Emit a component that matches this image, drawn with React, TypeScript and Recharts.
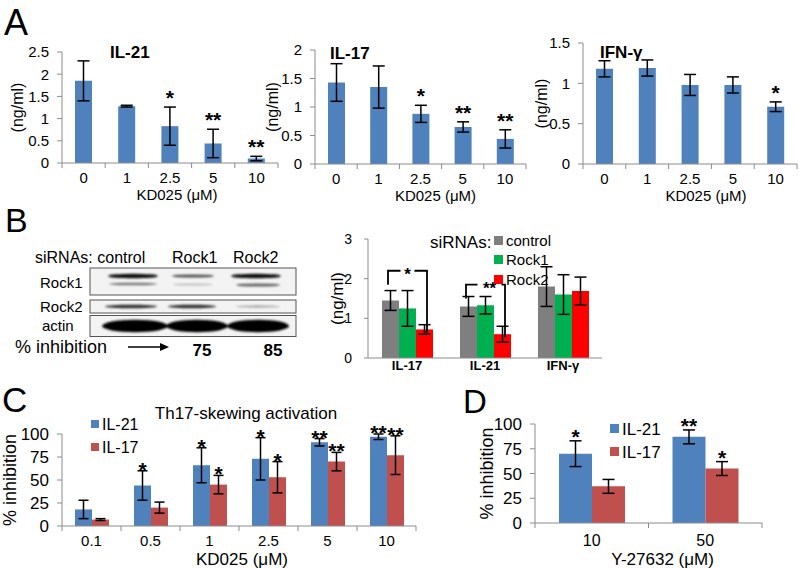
import React from "react";
import { Bar, BarChart, ErrorBar, LabelList, XAxis, YAxis } from "recharts";

const FONT = "Arial, 'Liberation Sans', Helvetica, sans-serif";
const AXIS = "#8c8c8c";
const BLUE = "#4F81BD";
const RED = "#C0504D";
const GRAY = "#7F7F7F";
const GREEN = "#00B050";
const BRIGHT_RED = "#FF0000";

// panel A: KD025 dose response
const kdCats = ["0", "1", "2.5", "5", "10"];
const il21Mean = [1.85, 1.28, 0.83, 0.44, 0.1];
const il21Err = [0.45, 0.02, 0.43, 0.32, 0.05];
const il21Stars = ["", "", "*", "**", "**"];
const il21Ticks = [0, 0.5, 1, 1.5, 2, 2.5];
const il17Mean = [1.43, 1.35, 0.88, 0.65, 0.44];
const il17Err = [0.33, 0.37, 0.15, 0.09, 0.16];
const il17Stars = ["", "", "*", "**", "**"];
const il17Ticks = [0, 0.5, 1, 1.5, 2];
const ifngMean = [1.18, 1.19, 0.98, 0.98, 0.71];
const ifngErr = [0.1, 0.1, 0.13, 0.1, 0.06];
const ifngStars = ["", "", "", "", "*"];
const ifngTicks = [0, 0.5, 1, 1.5];

// panel B: siRNA knockdown
const sirnaCats = ["IL-17", "IL-21", "IFN-γ"];
const ctrlMean = [1.45, 1.3, 1.8];
const ctrlErr = [0.25, 0.25, 0.5];
const rock1Mean = [1.25, 1.33, 1.6];
const rock1Err = [0.45, 0.22, 0.5];
const rock2Mean = [0.72, 0.6, 1.69];
const rock2Err = [0.12, 0.2, 0.35];
const sirnaSigLevel = [2.2, 1.85, 0];
const sirnaSigMark = ["*", "**", ""];
const sirnaTicks = [0, 1, 2, 3];

// panel C: Th17-skewing, KD025
const cCats = ["0.1", "0.5", "1", "2.5", "5", "10"];
const cIl21 = [18, 44, 66, 73, 91, 97];
const cIl21Err = [10, 16, 19, 23, 4, 3];
const cIl21Stars = ["", "*", "*", "*", "**", "**"];
const cIl17 = [7, 20, 45, 53, 70, 77];
const cIl17Err = [1, 6, 10, 17, 10, 21];
const cIl17Stars = ["", "", "*", "*", "**", "**"];
const pctTicks = [0, 25, 50, 75, 100];

// panel D: Y-27632
const dCats = ["10", "50"];
const dIl21 = [70, 87];
const dIl21Err = [13, 7];
const dIl21Stars = ["*", "**"];
const dIl17 = [37, 55];
const dIl17Err = [7, 7];
const dIl17Stars = ["", "*"];

const bandTick =
  (band: number, axisY: number, gap: number, fs: number, count: number, marks = true, bold = false) =>
  (p: any) => {
    const x = p.x as number;
    const half = band / 2;
    return (
      <g>
        {marks && <line x1={x - half} x2={x - half} y1={axisY} y2={axisY + 5} stroke={AXIS} />}
        {marks && p.index === count - 1 && (
          <line x1={x + half} x2={x + half} y1={axisY} y2={axisY + 5} stroke={AXIS} />
        )}
        <text x={x} y={axisY + gap} dy="0.71em" textAnchor="middle" fontSize={fs} fontWeight={bold ? 700 : 400} fill="#000">
          {p.payload.value}
        </text>
      </g>
    );
  };

const yTitle = (text: string, cx: number, fs: number) => (p: any) => {
  const vb = p.viewBox ?? { x: 0, y: 0, width: 0, height: 0 };
  const cy = vb.y + vb.height / 2;
  return (
    <text x={cx} y={cy} transform={`rotate(-90 ${cx} ${cy})`} textAnchor="middle" dominantBaseline="central" fontSize={fs} fill="#000">
      {text}
    </text>
  );
};

const xTitle = (text: string, dy: number, dx: number, fs: number) => (p: any) => {
  const vb = p.viewBox ?? { x: 0, y: 0, width: 0, height: 0 };
  return (
    <text x={vb.x + vb.width / 2 + dx} y={vb.y + dy} textAnchor="middle" fontSize={fs} fill="#000">
      {text}
    </text>
  );
};

const boxOf = (p: any) => (p.viewBox && p.viewBox.width !== undefined ? p.viewBox : p);

const starMarks = (stars: string[], errs: number[], fs: number, lift: number) => (p: any) => {
  const i = p.index as number;
  const s = stars[i];
  if (!s) return null;
  const vb = boxOf(p);
  const h = Math.abs(vb.height);
  const v = Number(p.value);
  if (!h || !v) return null;
  const top = vb.y - (errs[i] * h) / v;
  return (
    <text x={vb.x + vb.width / 2} y={top - lift} textAnchor="middle" fontSize={fs} fontWeight={700} fill="#000">
      {s}
    </text>
  );
};

// significance bracket from control bar to Rock2 bar
const sigBracket = (p: any) => {
  const i = p.index as number;
  const mark = sirnaSigMark[i];
  if (!mark) return null;
  const vb = boxOf(p);
  const h = Math.abs(vb.height);
  const v = Number(p.value);
  const bottom = vb.y + h;
  const levelY = bottom - (sirnaSigLevel[i] * h) / v;
  const redC = vb.x + vb.width / 2;
  const left = redC - 2 * vb.width - 2.5;
  const right = redC + 2.5;
  const mid = (left + right) / 2 + (mark.length > 1 ? 4 : 0);
  const gap = mark.length * 5 + 2;
  return (
    <g>
      <path
        d={`M${left},${levelY + 14} V${levelY} H${mid - gap} M${mid + gap},${levelY} H${right} V${vb.y + 3}`}
        fill="none"
        stroke="#000"
        strokeWidth={1.8}
      />
      <text x={mid} y={levelY + 9} textAnchor="middle" fontSize={17} fontWeight={700} fill="#000">
        {mark}
      </text>
    </g>
  );
};

type CytoProps = {
  left: number;
  top: number;
  width: number;
  height: number;
  mTop: number;
  mRight: number;
  yW: number;
  xH: number;
  ticks: number[];
  means: number[];
  errs: number[];
  stars: string[];
  yLabelX: number;
  xLabelDx: number;
};

function CytokinePanel(c: CytoProps) {
  const data = kdCats.map((cat, i) => ({ cat, mean: c.means[i], err: c.errs[i] }));
  const plotW = c.width - c.yW - c.mRight;
  const axisY = c.height - c.xH;
  const band = plotW / data.length;
  return (
    <div style={{ position: "absolute", left: c.left, top: c.top }}>
      <BarChart width={c.width} height={c.height} data={data} margin={{ top: c.mTop, right: c.mRight, left: 0, bottom: 0 }} barSize={17}>
        <XAxis
          dataKey="cat"
          height={c.xH}
          interval={0}
          axisLine={{ stroke: AXIS }}
          tickLine={false}
          tick={bandTick(band, axisY, 9, 15, data.length)}
          label={xTitle("KD025 (μM)", 37, c.xLabelDx, 15)}
        />
        <YAxis
          domain={[0, c.ticks[c.ticks.length - 1]]}
          ticks={c.ticks}
          interval={0}
          width={c.yW}
          tickSize={5}
          tickMargin={8}
          axisLine={{ stroke: AXIS }}
          tickLine={{ stroke: AXIS }}
          tick={{ fontSize: 15, fill: "#000" }}
          label={yTitle("(ng/ml)", c.yLabelX, 16)}
        />
        <Bar dataKey="mean" fill={BLUE} isAnimationActive={false}>
          <ErrorBar dataKey="err" width={6} stroke="#000" strokeWidth={1.5} direction="y" />
          <LabelList dataKey="mean" content={starMarks(c.stars, c.errs, 21, 2)} />
        </Bar>
      </BarChart>
    </div>
  );
}

function SirnaPanel() {
  const data = sirnaCats.map((cat, i) => ({
    cat,
    ctrl: ctrlMean[i],
    ctrlErr: ctrlErr[i],
    r1: rock1Mean[i],
    r1Err: rock1Err[i],
    r2: rock2Mean[i],
    r2Err: rock2Err[i],
  }));
  const W = 320;
  const H = 160;
  const xH = 27;
  const band = (W - 68 - 18) / data.length;
  return (
    <div style={{ position: "absolute", left: 300, top: 225 }}>
      <BarChart width={W} height={H} data={data} margin={{ top: 14, right: 18, left: 0, bottom: 0 }} barSize={17} barGap={0}>
        <XAxis
          dataKey="cat"
          height={xH}
          interval={0}
          axisLine={{ stroke: AXIS }}
          tickLine={false}
          tick={bandTick(band, H - xH, 3, 13, data.length, false, true)}
        />
        <YAxis
          domain={[0, 3]}
          ticks={sirnaTicks}
          interval={0}
          width={68}
          tickSize={4}
          tickMargin={12}
          axisLine={{ stroke: AXIS }}
          tickLine={{ stroke: AXIS }}
          tick={{ fontSize: 14, fill: "#000" }}
          label={yTitle("(ng/ml)", 37, 17)}
        />
        <Bar dataKey="ctrl" fill={GRAY} isAnimationActive={false}>
          <ErrorBar dataKey="ctrlErr" width={6} stroke="#000" strokeWidth={1.5} direction="y" />
        </Bar>
        <Bar dataKey="r1" fill={GREEN} isAnimationActive={false}>
          <ErrorBar dataKey="r1Err" width={6} stroke="#000" strokeWidth={1.5} direction="y" />
        </Bar>
        <Bar dataKey="r2" fill={BRIGHT_RED} isAnimationActive={false}>
          <ErrorBar dataKey="r2Err" width={6} stroke="#000" strokeWidth={1.5} direction="y" />
          <LabelList dataKey="r2" content={sigBracket} />
        </Bar>
      </BarChart>
    </div>
  );
}

type PairProps = {
  left: number;
  top: number;
  width: number;
  height: number;
  mTop: number;
  mRight: number;
  yW: number;
  xH: number;
  cats: string[];
  a: number[];
  aErr: number[];
  aStars: string[];
  b: number[];
  bErr: number[];
  bStars: string[];
  barSize: number;
  cap: number;
  xLabel: string;
  xLabelDy: number;
  xLabelDx: number;
  tickGap: number;
  tickFs: number;
  yLabelX: number;
  starLift: number;
};

function PairPanel(c: PairProps) {
  const data = c.cats.map((cat, i) => ({ cat, a: c.a[i], aErr: c.aErr[i], b: c.b[i], bErr: c.bErr[i] }));
  const axisY = c.height - c.xH;
  const band = (c.width - c.yW - c.mRight) / data.length;
  return (
    <div style={{ position: "absolute", left: c.left, top: c.top }}>
      <BarChart width={c.width} height={c.height} data={data} margin={{ top: c.mTop, right: c.mRight, left: 0, bottom: 0 }} barSize={c.barSize} barGap={0}>
        <XAxis
          dataKey="cat"
          height={c.xH}
          interval={0}
          axisLine={{ stroke: AXIS }}
          tickLine={false}
          tick={bandTick(band, axisY, c.tickGap, c.tickFs, data.length)}
          label={xTitle(c.xLabel, c.xLabelDy, c.xLabelDx, 17)}
        />
        <YAxis
          domain={[0, 100]}
          ticks={pctTicks}
          interval={0}
          width={c.yW}
          tickSize={5}
          tickMargin={8}
          axisLine={{ stroke: AXIS }}
          tickLine={{ stroke: AXIS }}
          tick={{ fontSize: 17, fill: "#000" }}
          label={yTitle("% inhibition", c.yLabelX, 18)}
        />
        <Bar dataKey="a" fill={BLUE} isAnimationActive={false}>
          <ErrorBar dataKey="aErr" width={c.cap} stroke="#000" strokeWidth={1.5} direction="y" />
          <LabelList dataKey="a" content={starMarks(c.aStars, c.aErr, 21, c.starLift)} />
        </Bar>
        <Bar dataKey="b" fill={RED} isAnimationActive={false}>
          <ErrorBar dataKey="bErr" width={c.cap} stroke="#000" strokeWidth={1.5} direction="y" />
          <LabelList dataKey="b" content={starMarks(c.bStars, c.bErr, 21, c.starLift)} />
        </Bar>
      </BarChart>
    </div>
  );
}

function Swatch({ x, y, size, color, label, fs }: { x: number; y: number; size: number; color: string; label: string; fs: number }) {
  return (
    <g>
      <rect x={x} y={y} width={size} height={size} fill={color} />
      <text x={x + size + 3} y={y + size / 2 + fs * 0.36} fontSize={fs} fill="#000">
        {label}
      </text>
    </g>
  );
}

function Overlay() {
  return (
    <svg width={799} height={568} style={{ position: "absolute", left: 0, top: 0, pointerEvents: "none" }}>
      <defs>
        <filter id="blur" x="-20%" y="-100%" width="140%" height="300%">
          <feGaussianBlur stdDeviation="0.9" />
        </filter>
      </defs>
      {/* panel letters */}
      <text x={4} y={35} fontSize={36}>A</text>
      <text x={5} y={232} fontSize={34}>B</text>
      <text x={2} y={412} fontSize={35}>C</text>
      <text x={463} y={413} fontSize={33}>D</text>

      {/* A titles */}
      <text x={110} y={58} fontSize={17} fontWeight={700}>IL-21</text>
      <text x={330} y={59} fontSize={17} fontWeight={700}>IL-17</text>
      <text x={600} y={58} fontSize={17} fontWeight={700}>IFN-γ</text>

      {/* B blot */}
      <text x={35} y={263} fontSize={16}>siRNAs: control</text>
      <text x={172} y={263} fontSize={16}>Rock1</text>
      <text x={233} y={263} fontSize={16}>Rock2</text>
      <text x={40} y={288} fontSize={15}>Rock1</text>
      <text x={40} y={312} fontSize={15}>Rock2</text>
      <text x={42} y={331} fontSize={15}>actin</text>
      <rect x={90} y={268} width={206} height={27} fill="#f3f3f3" stroke="#555" />
      <rect x={90} y={300} width={206} height={13} fill="#f3f3f3" stroke="#555" />
      <rect x={90} y={315.5} width={206} height={21} fill="#f3f3f3" stroke="#555" />
      <g filter="url(#blur)">
        <ellipse cx={133} cy={276} rx={25} ry={2.3} fill="#111" />
        <ellipse cx={193} cy={276} rx={21} ry={1.6} fill="#555" />
        <ellipse cx={256} cy={276} rx={25} ry={2.3} fill="#111" />
        <ellipse cx={133} cy={284} rx={24} ry={1.3} fill="#777" />
        <ellipse cx={193} cy={284.5} rx={20} ry={1} fill="#bbb" />
        <ellipse cx={258} cy={285} rx={22} ry={1.6} fill="#666" />
        <ellipse cx={131} cy={306.5} rx={26} ry={1.8} fill="#333" />
        <ellipse cx={192} cy={306.5} rx={24} ry={1.8} fill="#333" />
        <ellipse cx={258} cy={306.5} rx={22} ry={1.2} fill="#aaa" />
        <ellipse cx={135} cy={326} rx={33} ry={6.2} fill="#000" />
        <ellipse cx={197} cy={326} rx={31} ry={6.2} fill="#000" />
        <ellipse cx={258} cy={326} rx={31} ry={6.2} fill="#000" />
      </g>
      <text x={15} y={353} fontSize={18}>% inhibition</text>
      <line x1={128} y1={347} x2={161} y2={347} stroke="#000" strokeWidth={1.5} />
      <polygon points="160,343 169,347 160,351" fill="#000" />
      <text x={202} y={356} fontSize={17} fontWeight={700} textAnchor="middle">75</text>
      <text x={273} y={356} fontSize={17} fontWeight={700} textAnchor="middle">85</text>

      {/* B legend */}
      <text x={430} y={248} fontSize={17}>siRNAs:</text>
      <Swatch x={494} y={236} size={9} color={GRAY} label="control" fs={15} />
      <Swatch x={494} y={255} size={9} color={GREEN} label="Rock1" fs={15} />
      <Swatch x={494} y={275} size={9} color={BRIGHT_RED} label="Rock2" fs={15} />

      {/* C title + legend */}
      <text x={246} y={419} fontSize={17} textAnchor="middle">Th17-skewing activation</text>
      <Swatch x={91} y={420} size={8} color={BLUE} label="IL-21" fs={16} />
      <Swatch x={91} y={443} size={8} color={RED} label="IL-17" fs={16} />

      {/* D legend */}
      <Swatch x={610} y={424} size={9} color={BLUE} label="IL-21" fs={17} />
      <Swatch x={610} y={447} size={9} color={RED} label="IL-17" fs={17} />
    </svg>
  );
}

export default function App() {
  return (
    <div
      style={{
        position: "absolute",
        left: 0,
        top: 0,
        width: 799,
        height: 568,
        background: "#fff",
        fontFamily: FONT,
        overflow: "hidden",
      }}
    >
      <CytokinePanel left={0} top={30} width={290} height={175} mTop={22} mRight={12} yW={62} xH={42} ticks={il21Ticks} means={il21Mean} errs={il21Err} stars={il21Stars} yLabelX={17} xLabelDx={7} />
      <CytokinePanel left={262} top={30} width={278} height={176} mTop={20} mRight={14} yW={53} xH={42} ticks={il17Ticks} means={il17Mean} errs={il17Err} stars={il17Stars} yLabelX={10} xLabelDx={15} />
      <CytokinePanel left={528} top={25} width={271} height={181} mTop={18} mRight={2} yW={55} xH={42} ticks={ifngTicks} means={ifngMean} errs={ifngErr} stars={ifngStars} yLabelX={13} xLabelDx={16} />
      <SirnaPanel />
      <PairPanel
        left={0}
        top={400}
        width={420}
        height={168}
        mTop={34}
        mRight={4}
        yW={62}
        xH={42}
        cats={cCats}
        a={cIl21}
        aErr={cIl21Err}
        aStars={cIl21Stars}
        b={cIl17}
        bErr={cIl17Err}
        bStars={cIl17Stars}
        barSize={17}
        cap={5}
        xLabel="KD025 (μM)"
        xLabelDy={39}
        xLabelDx={3}
        tickGap={9}
        tickFs={15}
        yLabelX={10}
        starLift={-6}
      />
      <PairPanel
        left={440}
        top={400}
        width={359}
        height={168}
        mTop={24}
        mRight={37}
        yW={95}
        xH={45}
        cats={dCats}
        a={dIl21}
        aErr={dIl21Err}
        aStars={dIl21Stars}
        b={dIl17}
        bErr={dIl17Err}
        bStars={dIl17Stars}
        barSize={33}
        cap={6}
        xLabel="Y-27632 (μM)"
        xLabelDy={42}
        xLabelDx={14}
        tickGap={12}
        tickFs={16}
        yLabelX={47}
        starLift={-3}
      />
      <Overlay />
    </div>
  );
}
